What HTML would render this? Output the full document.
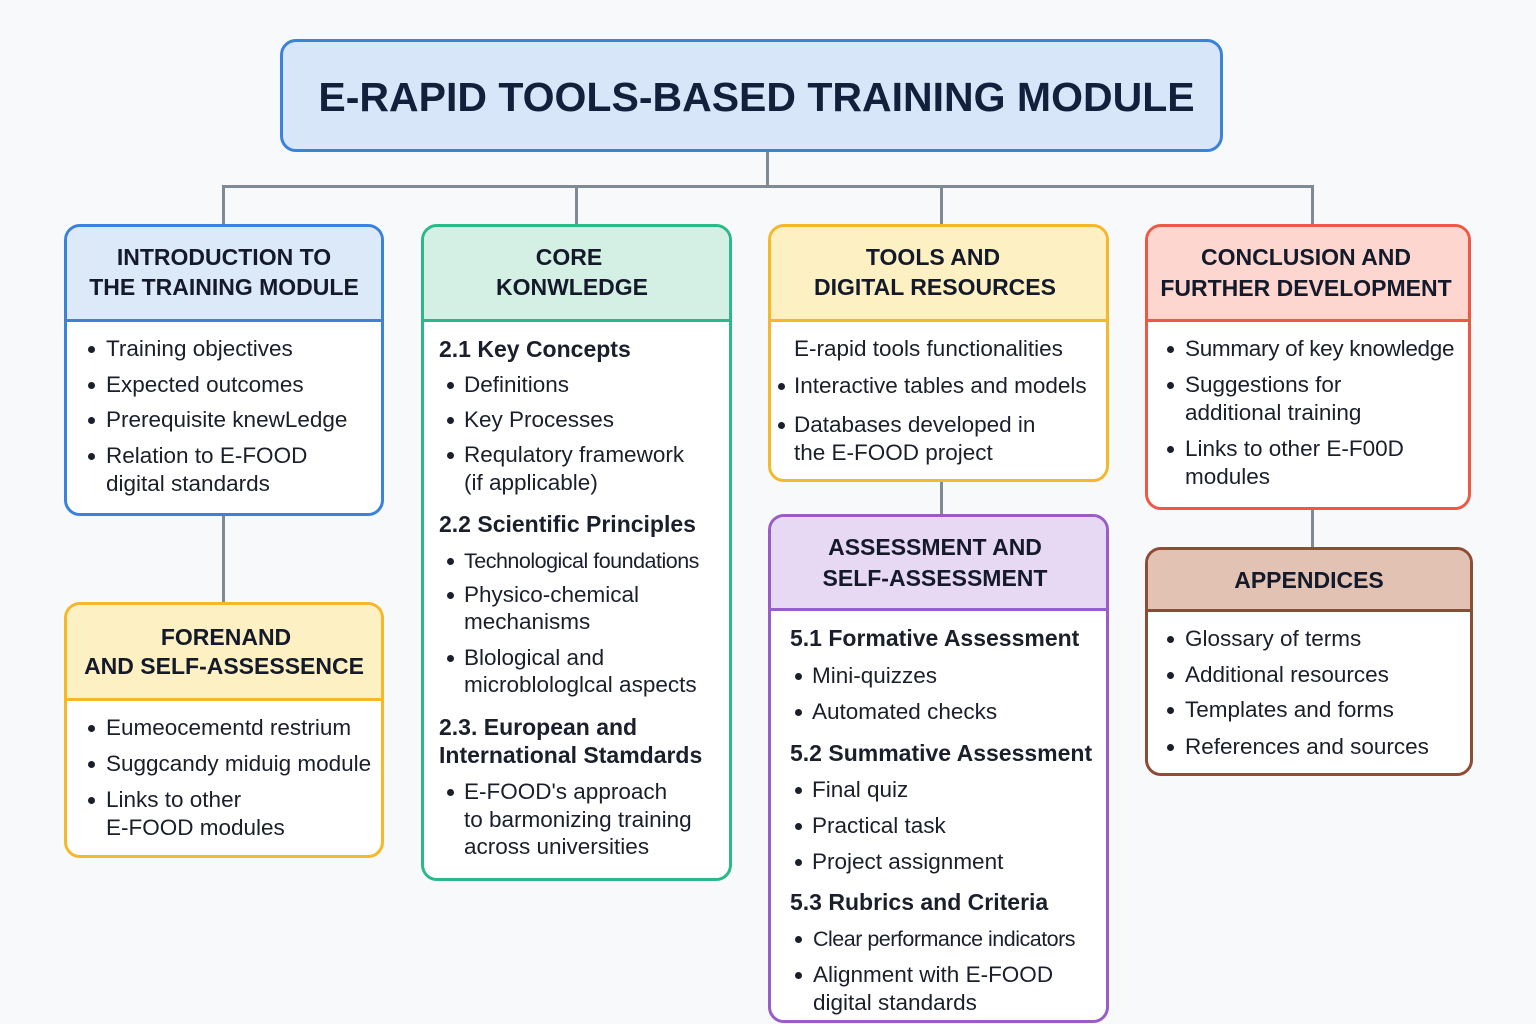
<!DOCTYPE html>
<html><head><meta charset="utf-8"><style>
html,body{margin:0;padding:0}
body{width:1536px;height:1024px;background:#f8f9fa;position:relative;overflow:hidden;font-family:"Liberation Sans",sans-serif;color:#1a1f2b}
.b{position:absolute;border:3px solid;border-radius:16px;background:#fff;box-sizing:border-box;overflow:hidden}
.h{position:absolute;left:0;right:0;top:0;border-bottom:3px solid}
.t{position:absolute;white-space:nowrap;font-size:22.5px;line-height:30px}
.hd{position:absolute;white-space:nowrap;font-size:23px;line-height:30px;font-weight:bold;text-align:center;color:#141a2a}
.s{font-weight:bold;font-size:23px}
.l{position:absolute;background:#808a94}
.d{position:absolute;width:7px;height:7px;border-radius:50%;background:#1a1f2b}
</style></head><body>
<div class="l" style="left:766px;top:150px;width:3px;height:37px"></div>
<div class="l" style="left:222px;top:185px;width:1092px;height:3px"></div>
<div class="l" style="left:222px;top:185px;width:3px;height:42px"></div>
<div class="l" style="left:575px;top:185px;width:3px;height:42px"></div>
<div class="l" style="left:940px;top:185px;width:3px;height:42px"></div>
<div class="l" style="left:1311px;top:185px;width:3px;height:42px"></div>
<div class="l" style="left:222px;top:513px;width:3px;height:92px"></div>
<div class="l" style="left:940px;top:479px;width:3px;height:38px"></div>
<div class="l" style="left:1311px;top:507px;width:3px;height:43px"></div>

<div class="b" style="left:280px;top:39px;width:943px;height:113px;border-color:#3b82d9;background:#d7e6f8"></div>
<div class="hd" style="left:285px;top:72px;width:943px;font-size:41px;line-height:50px;color:#13203b">E-RAPID TOOLS-BASED TRAINING MODULE</div>

<div class="b" style="left:64px;top:224px;width:320px;height:292px;border-color:#3b82d9"><div class="h" style="height:92px;background:#dce9f8;border-color:#3b82d9"></div></div>
<div class="hd" style="left:64px;top:242px;width:320px">INTRODUCTION TO</div>
<div class="hd" style="left:64px;top:272px;width:320px">THE TRAINING MODULE</div>
<div class="d" style="left:88px;top:346px"></div><div class="t" style="left:106px;top:334px">Training objectives</div>
<div class="d" style="left:88px;top:382px"></div><div class="t" style="left:106px;top:370px">Expected outcomes</div>
<div class="d" style="left:88px;top:417px"></div><div class="t" style="left:106px;top:405px">Prerequisite knewLedge</div>
<div class="d" style="left:88px;top:453px"></div><div class="t" style="left:106px;top:441px">Relation to E-FOOD</div>
<div class="t" style="left:106px;top:469px">digital standards</div>

<div class="b" style="left:64px;top:602px;width:320px;height:256px;border-color:#f5b82a"><div class="h" style="height:93px;background:#fdf0c2;border-color:#f5b82a"></div></div>
<div class="hd" style="left:64px;top:622px;width:324px">FORENAND</div>
<div class="hd" style="left:64px;top:651px;width:320px">AND SELF-ASSESSENCE</div>
<div class="d" style="left:88px;top:725px"></div><div class="t" style="left:106px;top:713px">Eumeocementd restrium</div>
<div class="d" style="left:88px;top:761px"></div><div class="t" style="left:106px;top:749px">Suggcandy miduig module</div>
<div class="d" style="left:88px;top:797px"></div><div class="t" style="left:106px;top:785px">Links to other</div>
<div class="t" style="left:106px;top:813px">E-FOOD modules</div>

<div class="b" style="left:421px;top:224px;width:311px;height:657px;border-color:#2db88a"><div class="h" style="height:92px;background:#d4f0e5;border-color:#2db88a"></div></div>
<div class="hd" style="left:421px;top:242px;width:296px">CORE</div>
<div class="hd" style="left:421px;top:272px;width:302px">KONWLEDGE</div>
<div class="t s" style="left:439px;top:334px">2.1 Key Concepts</div>
<div class="d" style="left:447px;top:382px"></div><div class="t" style="left:464px;top:370px">Definitions</div>
<div class="d" style="left:447px;top:417px"></div><div class="t" style="left:464px;top:405px">Key Processes</div>
<div class="d" style="left:447px;top:452px"></div><div class="t" style="left:464px;top:440px">Requlatory framework</div>
<div class="t" style="left:464px;top:468px">(if applicable)</div>
<div class="t s" style="left:439px;top:509px">2.2 Scientific Principles</div>
<div class="d" style="left:447px;top:558px"></div><div class="t" style="left:464px;top:546px;font-size:21.5px;letter-spacing:-0.5px">Technological foundations</div>
<div class="d" style="left:447px;top:592px"></div><div class="t" style="left:464px;top:580px">Physico-chemical</div>
<div class="t" style="left:464px;top:607px">mechanisms</div>
<div class="d" style="left:447px;top:655px"></div><div class="t" style="left:464px;top:643px">Blological and</div>
<div class="t" style="left:464px;top:670px">microblologlcal aspects</div>
<div class="t s" style="left:439px;top:712px">2.3. European and</div>
<div class="t s" style="left:439px;top:740px">International Stamdards</div>
<div class="d" style="left:447px;top:789px"></div><div class="t" style="left:464px;top:777px">E-FOOD's approach</div>
<div class="t" style="left:464px;top:805px">to barmonizing training</div>
<div class="t" style="left:464px;top:832px">across universities</div>

<div class="b" style="left:768px;top:224px;width:341px;height:258px;border-color:#f5b82a"><div class="h" style="height:92px;background:#fdf0c2;border-color:#f5b82a"></div></div>
<div class="hd" style="left:768px;top:242px;width:330px">TOOLS AND</div>
<div class="hd" style="left:768px;top:272px;width:334px">DIGITAL RESOURCES</div>
<div class="t" style="left:794px;top:334px">E-rapid tools functionalities</div>
<div class="d" style="left:778px;top:383px"></div><div class="t" style="left:794px;top:371px">Interactive tables and models</div>
<div class="d" style="left:778px;top:422px"></div><div class="t" style="left:794px;top:410px">Databases developed in</div>
<div class="t" style="left:794px;top:438px">the E-FOOD project</div>

<div class="b" style="left:768px;top:514px;width:341px;height:509px;border-color:#9a5cc8"><div class="h" style="height:91px;background:#e7d9f4;border-color:#9a5cc8"></div></div>
<div class="hd" style="left:768px;top:532px;width:334px">ASSESSMENT AND</div>
<div class="hd" style="left:768px;top:563px;width:334px">SELF-ASSESSMENT</div>
<div class="t s" style="left:790px;top:623px">5.1 Formative Assessment</div>
<div class="d" style="left:795px;top:673px"></div><div class="t" style="left:812px;top:661px">Mini-quizzes</div>
<div class="d" style="left:795px;top:709px"></div><div class="t" style="left:812px;top:697px">Automated checks</div>
<div class="t s" style="left:790px;top:738px">5.2 Summative Assessment</div>
<div class="d" style="left:795px;top:787px"></div><div class="t" style="left:812px;top:775px">Final quiz</div>
<div class="d" style="left:795px;top:823px"></div><div class="t" style="left:812px;top:811px">Practical task</div>
<div class="d" style="left:795px;top:859px"></div><div class="t" style="left:812px;top:847px">Project assignment</div>
<div class="t s" style="left:790px;top:887px">5.3 Rubrics and Criteria</div>
<div class="d" style="left:795px;top:936px"></div><div class="t" style="left:813px;top:924px;font-size:21.5px;letter-spacing:-0.5px">Clear performance indicators</div>
<div class="d" style="left:795px;top:972px"></div><div class="t" style="left:813px;top:960px">Alignment with E-FOOD</div>
<div class="t" style="left:813px;top:988px">digital standards</div>

<div class="b" style="left:1145px;top:224px;width:326px;height:286px;border-color:#ec5a45"><div class="h" style="height:92px;background:#fdd6d0;border-color:#ec5a45"></div></div>
<div class="hd" style="left:1145px;top:242px;width:322px">CONCLUSION AND</div>
<div class="hd" style="left:1145px;top:273px;width:322px">FURTHER DEVELOPMENT</div>
<div class="d" style="left:1167px;top:346px"></div><div class="t" style="left:1185px;top:334px;letter-spacing:-0.3px">Summary of key knowledge</div>
<div class="d" style="left:1167px;top:382px"></div><div class="t" style="left:1185px;top:370px">Suggestions for</div>
<div class="t" style="left:1185px;top:398px">additional training</div>
<div class="d" style="left:1167px;top:446px"></div><div class="t" style="left:1185px;top:434px">Links to other E-F00D</div>
<div class="t" style="left:1185px;top:462px">modules</div>

<div class="b" style="left:1145px;top:547px;width:328px;height:229px;border-color:#8e4b36"><div class="h" style="height:59px;background:#e1c2b3;border-color:#8e4b36"></div></div>
<div class="hd" style="left:1145px;top:565px;width:328px">APPENDICES</div>
<div class="d" style="left:1167px;top:636px"></div><div class="t" style="left:1185px;top:624px">Glossary of terms</div>
<div class="d" style="left:1167px;top:672px"></div><div class="t" style="left:1185px;top:660px">Additional resources</div>
<div class="d" style="left:1167px;top:707px"></div><div class="t" style="left:1185px;top:695px">Templates and forms</div>
<div class="d" style="left:1167px;top:744px"></div><div class="t" style="left:1185px;top:732px">References and sources</div>
</body></html>
